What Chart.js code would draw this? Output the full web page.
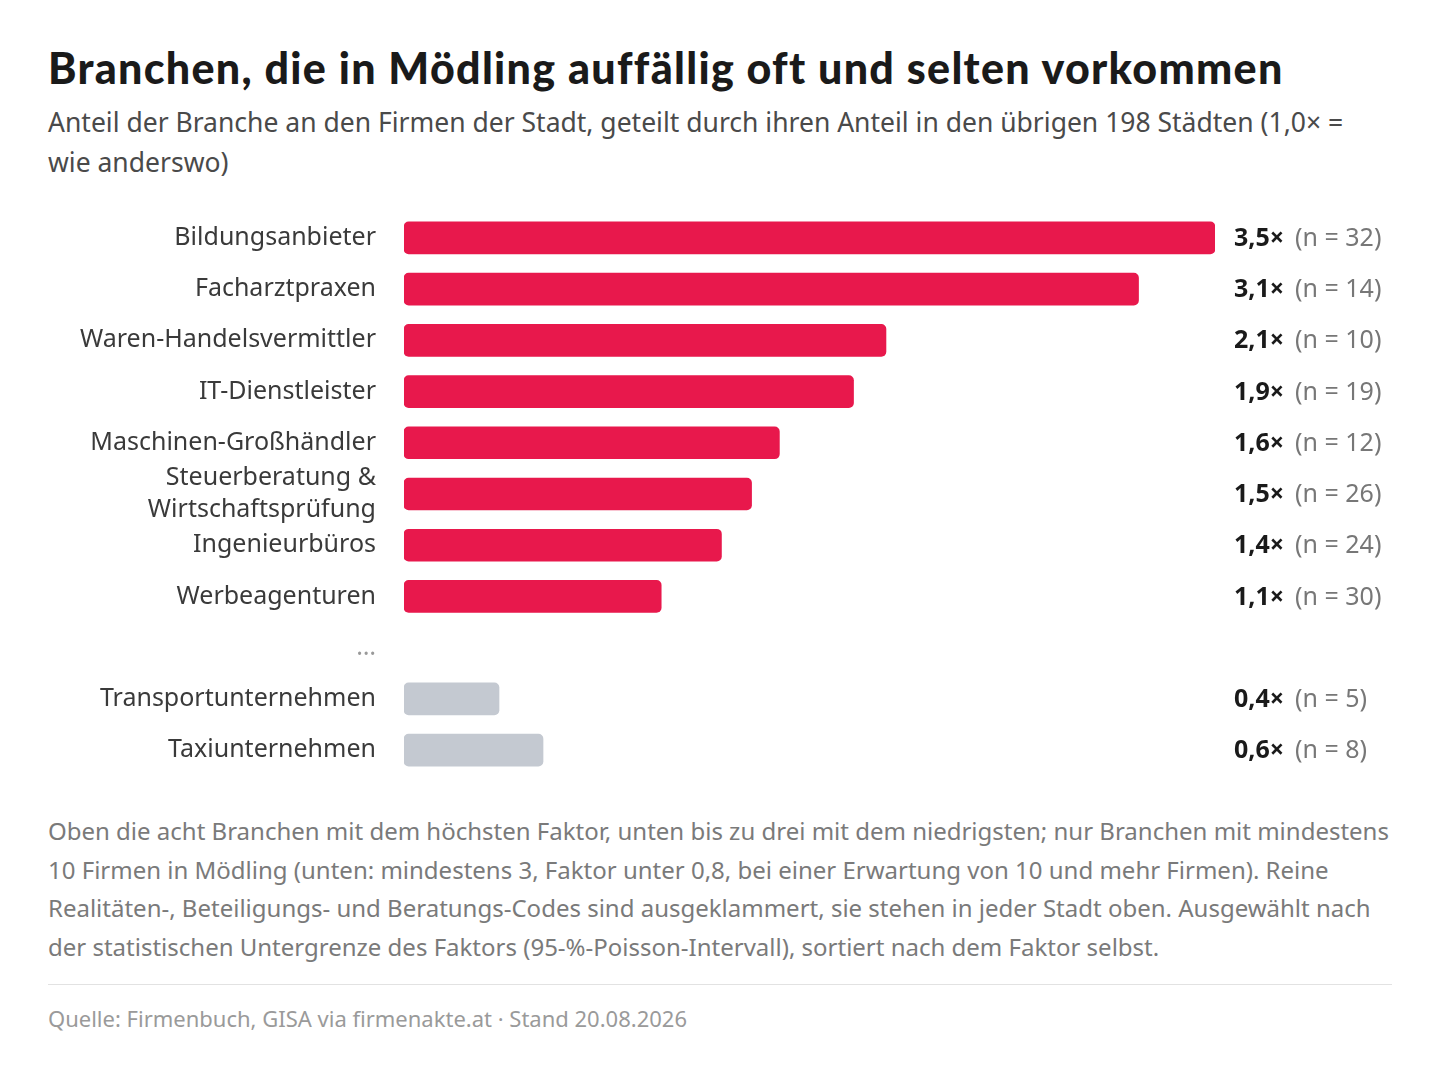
<!DOCTYPE html>
<html><head><meta charset="utf-8">
<script src="https://cdn.jsdelivr.net/npm/chart.js@4"></script>
<style>
body{margin:0;background:#fff;font-family:"Noto Sans",sans-serif;width:1440px;height:1066px;position:relative}
.a{position:absolute;left:48px;width:1344px}
#t{top:42px;font-family:Lato,sans-serif;font-weight:900;font-size:43px;color:#1a1a1a;letter-spacing:1.3px;white-space:nowrap}
#s{top:102px;font-size:26.5px;line-height:40px;color:#4a4a4a}
#f{top:812px;font-size:24px;line-height:38.5px;color:#7a7a7a}
#hr{top:984px;height:0;border-top:1.5px solid #e2e2e2}
#q{top:1003px;font-size:22px;color:#9a9a9a}
#w{position:absolute;left:48px;top:176px;width:1344px;height:636px}
</style></head><body>
<div class="a" id="t">Branchen, die in Mödling auffällig oft und selten vorkommen</div>
<div class="a" id="s">Anteil der Branche an den Firmen der Stadt, geteilt durch ihren Anteil in den übrigen 198 Städten (1,0× = wie anderswo)</div>
<div id="w"><canvas id="c"></canvas></div>
<div class="a" id="f">Oben die acht Branchen mit dem höchsten Faktor, unten bis zu drei mit dem niedrigsten; nur Branchen mit mindestens 10 Firmen in Mödling (unten: mindestens 3, Faktor unter 0,8, bei einer Erwartung von 10 und mehr Firmen). Reine Realitäten-, Beteiligungs- und Beratungs-Codes sind ausgeklammert, sie stehen in jeder Stadt oben. Ausgewählt nach der statistischen Untergrenze des Faktors (95-%-Poisson-Intervall), sortiert nach dem Faktor selbst.</div>
<div class="a" id="hr"></div>
<div class="a" id="q">Quelle: Firmenbuch, GISA via firmenakte.at · Stand 20.08.2026</div>
<script>
const categories=["Bildungsanbieter","Facharztpraxen","Waren-Handelsvermittler","IT-Dienstleister","Maschinen-Großhändler",["Steuerberatung &","Wirtschaftsprüfung"],"Ingenieurbüros","Werbeagenturen","…","Transportunternehmen","Taxiunternehmen"];
const factors=[3.5,3.17,2.08,1.94,1.62,1.5,1.37,1.11,null,0.41,0.6];
const factorLabels=["3,5×","3,1×","2,1×","1,9×","1,6×","1,5×","1,4×","1,1×","","0,4×","0,6×"];
const counts=[32,14,10,19,12,26,24,30,null,5,8];
const RED="#E8184C",GREY="#C4C9D1";
const colors=factors.map(v=>v!==null&&v<0.8?GREY:RED);
const ann={id:"ann",afterDatasetsDraw(ch){const c=ch.ctx,m=ch.getDatasetMeta(0);c.save();c.textBaseline="middle";
m.data.forEach((b,i)=>{if(factors[i]===null)return;const x=1186,y=b.y+1;
c.font="bold 25px 'Noto Sans'";c.fillStyle="#1a1a1a";c.textAlign="left";c.fillText(factorLabels[i],x,y);
const w=c.measureText(factorLabels[i]).width;c.font="25px 'Noto Sans'";c.fillStyle="#777";c.fillText("(n = "+counts[i]+")",x+w+11,y);});c.restore();}};
new Chart(document.getElementById("c"),{type:"bar",data:{labels:categories,datasets:[{data:factors,backgroundColor:colors,barThickness:32,borderRadius:5,borderSkipped:false}]},
options:{indexAxis:"y",responsive:true,maintainAspectRatio:false,animation:false,layout:{padding:{right:177,left:0,top:0,bottom:0}},
plugins:{legend:{display:false},tooltip:{enabled:false}},
scales:{x:{display:false,min:0,max:3.5},y:{grid:{display:false},border:{display:false},afterFit(s){s.width=356;},
ticks:{autoSkip:false,color:(c)=>c.index===8?"#999":"#3a3a3a",font:{size:25,family:"'Noto Sans'",lineHeight:1.3},padding:20,crossAlign:"near"}}}},plugins:[ann]});
</script></body></html>
